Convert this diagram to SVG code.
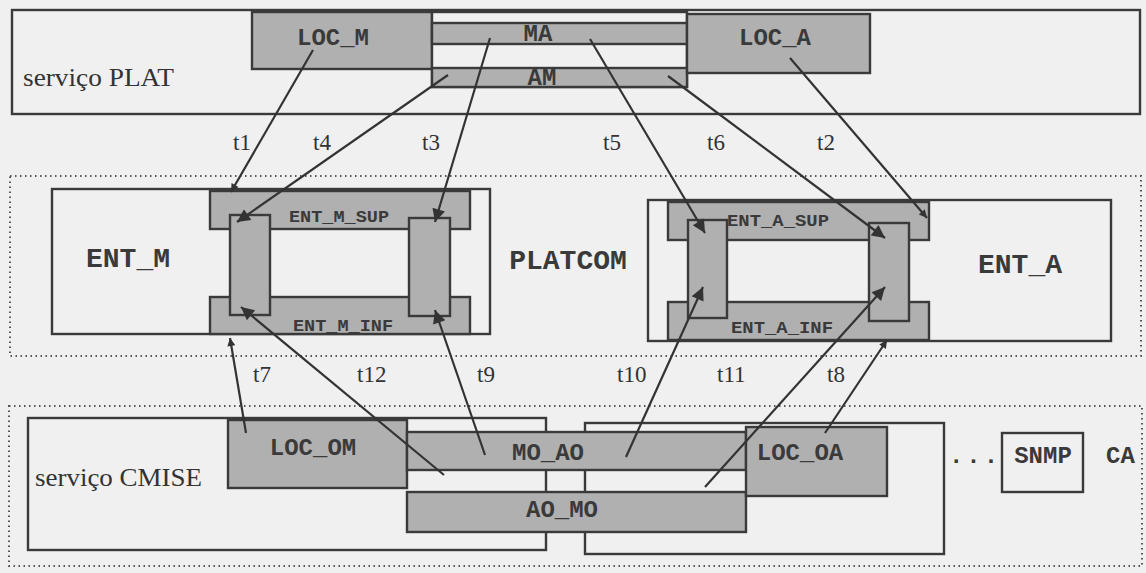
<svg xmlns="http://www.w3.org/2000/svg" width="1146" height="573" viewBox="0 0 1146 573">
<defs>
<style>
.box{fill:#f0f0f0;stroke:#3a3a3a;stroke-width:2.4}
.gray{fill:#b0b0b0;stroke:#3a3a3a;stroke-width:2.4}
.dot{fill:none;stroke:#555;stroke-width:2;stroke-dasharray:1.5 3.5}
.con{stroke:#333;stroke-width:2.2;fill:none}
.mono{font-family:"Liberation Mono","Courier New",monospace;font-weight:bold;fill:#3a3a3a;text-anchor:middle}
.m24{font-size:24px}
.m28{font-size:28px}
.m17{font-size:17px}
.serif{font-family:"Liberation Serif","Times New Roman",serif;fill:#333;font-size:23px}
.svc{font-size:26px}
</style>
<marker id="ah" viewBox="0 0 10 10" refX="10" refY="5" markerWidth="20" markerHeight="13" markerUnits="userSpaceOnUse" orient="auto"><path d="M0,0 L10,5 L0,10 z" fill="#333"/></marker>
<marker id="as" viewBox="0 0 10 10" refX="10" refY="5" markerWidth="11" markerHeight="8" markerUnits="userSpaceOnUse" orient="auto"><path d="M0,0 L10,5 L0,10 z" fill="#333"/></marker>
</defs>
<rect x="0" y="0" width="1146" height="573" fill="#f0f0f0"/>

<g id="plat">
<rect class="box" x="12" y="10" width="1128" height="104"/>
<text class="serif svc" x="23" y="86" textLength="151" lengthAdjust="spacingAndGlyphs">serviço PLAT</text>
</g>
<g id="loc_m">
<rect class="gray" x="252" y="12" width="180" height="57"/>
<text class="mono m24" x="333" y="45">LOC_M</text>
</g>
<g id="ma_am_container">
<rect class="box" x="432" y="12" width="255" height="75"/>
</g>
<g id="ma">
<rect class="gray" x="432" y="23" width="255" height="21"/>
<text class="mono m24" x="538" y="41">MA</text>
</g>
<g id="am">
<rect class="gray" x="432" y="68" width="255" height="19"/>
<text class="mono m24" x="542" y="85">AM</text>
</g>
<g id="loc_a">
<rect class="gray" x="687" y="14" width="183" height="59"/>
<text class="mono m24" x="775" y="45">LOC_A</text>
</g>

<g id="platcom">
<rect class="dot" x="10" y="176" width="1131" height="180"/>
<text class="mono m28" x="568" y="269">PLATCOM</text>
</g>
<g id="ent_m">
<rect class="box" x="52" y="189" width="438" height="145"/>
<text class="mono m28" x="128" y="267">ENT_M</text>
</g>
<g id="ent_m_sup">
<rect class="gray" x="210" y="191" width="260" height="38"/>
<text class="mono m17" x="339" y="222" textLength="100" lengthAdjust="spacingAndGlyphs">ENT_M_SUP</text>
</g>
<g id="ent_m_inf">
<rect class="gray" x="210" y="297" width="260" height="37"/>
<text class="mono m17" x="343" y="331" textLength="100" lengthAdjust="spacingAndGlyphs">ENT_M_INF</text>
</g>
<g id="ent_m_left">
<rect class="gray" x="230" y="215" width="40" height="100"/>
</g>
<g id="ent_m_right">
<rect class="gray" x="409" y="218" width="41" height="98"/>
</g>
<g id="ent_a">
<rect class="box" x="648" y="200" width="463" height="141"/>
<text class="mono m28" x="1020" y="273">ENT_A</text>
</g>
<g id="ent_a_sup">
<rect class="gray" x="668" y="202" width="261" height="38"/>
<text class="mono m17" x="778" y="226" textLength="102" lengthAdjust="spacingAndGlyphs">ENT_A_SUP</text>
</g>
<g id="ent_a_inf">
<rect class="gray" x="668" y="302" width="261" height="38"/>
<text class="mono m17" x="782" y="333" textLength="102" lengthAdjust="spacingAndGlyphs">ENT_A_INF</text>
</g>
<g id="ent_a_left">
<rect class="gray" x="688" y="220" width="39" height="98"/>
</g>
<g id="ent_a_right">
<rect class="gray" x="869" y="223" width="40" height="98"/>
</g>

<g id="ca">
<rect class="dot" x="9" y="406" width="1133" height="160"/>
<text class="mono m24" x="1106" y="463" style="text-anchor:start">CA</text>
<text class="mono m24" x="975" y="463" style="letter-spacing:3px">...</text>
</g>
<g id="cmise">
<rect class="box" x="28" y="418" width="518" height="132"/>
<text class="serif svc" x="35" y="486" textLength="167" lengthAdjust="spacingAndGlyphs">serviço CMISE</text>
</g>
<g id="cmise_right">
<rect class="box" x="585" y="423" width="359" height="131"/>
</g>
<g id="loc_om">
<rect class="gray" x="228" y="420" width="179" height="68"/>
<text class="mono m24" x="313" y="455">LOC_OM</text>
</g>
<g id="mo_ao">
<rect class="gray" x="407" y="432" width="339" height="38"/>
<text class="mono m24" x="548" y="460">MO_AO</text>
</g>
<g id="ao_mo">
<rect class="gray" x="407" y="492" width="339" height="40"/>
<text class="mono m24" x="562" y="517">AO_MO</text>
</g>
<g id="loc_oa">
<rect class="gray" x="746" y="427" width="141" height="69"/>
<text class="mono m24" x="800" y="460">LOC_OA</text>
</g>
<g id="snmp">
<rect class="box" x="1002" y="433" width="81" height="59"/>
<text class="mono m24" x="1043" y="463">SNMP</text>
</g>

<g id="connectors">
<line class="con" x1="313" y1="50" x2="231" y2="192" marker-end="url(#as)"/>
<line class="con" x1="448" y1="75" x2="237" y2="222" marker-end="url(#ah)"/>
<line class="con" x1="490" y1="38" x2="435" y2="222" marker-end="url(#ah)"/>
<line class="con" x1="590" y1="39" x2="705" y2="233" marker-end="url(#ah)"/>
<line class="con" x1="668" y1="76" x2="885" y2="238" marker-end="url(#ah)"/>
<line class="con" x1="790" y1="58" x2="927" y2="218" marker-end="url(#as)"/>
<line class="con" x1="246" y1="433" x2="230" y2="338" marker-end="url(#as)"/>
<line class="con" x1="444" y1="475" x2="241" y2="307" marker-end="url(#ah)"/>
<line class="con" x1="485" y1="455" x2="435" y2="310" marker-end="url(#ah)"/>
<line class="con" x1="626" y1="457" x2="703" y2="287" marker-end="url(#ah)"/>
<line class="con" x1="705" y1="487" x2="885" y2="287" marker-end="url(#ah)"/>
<line class="con" x1="825" y1="433" x2="887" y2="340" marker-end="url(#as)"/>
<text class="serif" x="233" y="150">t1</text>
<text class="serif" x="313" y="150">t4</text>
<text class="serif" x="422" y="150">t3</text>
<text class="serif" x="603" y="150">t5</text>
<text class="serif" x="707" y="150">t6</text>
<text class="serif" x="817" y="150">t2</text>
<text class="serif" x="253" y="382">t7</text>
<text class="serif" x="357" y="382">t12</text>
<text class="serif" x="477" y="382">t9</text>
<text class="serif" x="617" y="382">t10</text>
<text class="serif" x="717" y="382">t11</text>
<text class="serif" x="827" y="382">t8</text>
</g>
</svg>
